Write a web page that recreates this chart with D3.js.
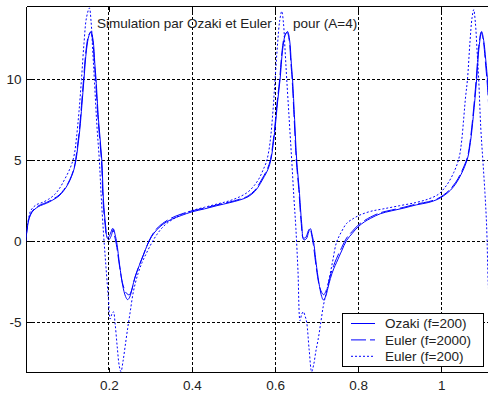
<!DOCTYPE html>
<html>
<head>
<meta charset="utf-8">
<script src="https://cdn.jsdelivr.net/npm/d3@7"></script>
<style>
  body { margin: 0; background: #fff; }
  svg text { font-family: "Liberation Sans", Arial, sans-serif; fill: #222; }
</style>
</head>
<body>
<div id="chart"></div>
<script>
const xTicks = [0.2, 0.4, 0.6, 0.8, 1];
const xTickLabels = ["0.2", "0.4", "0.6", "0.8", "1"];
const yTicks = [-5, 0, 5, 10];
const yTickLabels = ["-5", "0", "5", "10"];
const seriesNames = ["Ozaki (f=200)", "Euler (f=2000)", "Euler (f=200)"];
const titleParts = ["Simulation par Ozaki et Euler", "pour (A=4)"];

// Ozaki (f=200), solid
const ozaki = [
  [0.000, 0.0], [0.003, 0.7], [0.008, 1.4], [0.015, 1.8], [0.025, 2.05], [0.035, 2.2],
  [0.050, 2.35], [0.065, 2.55], [0.080, 2.8], [0.092, 3.15], [0.102, 3.55], [0.110, 4.0],
  [0.116, 4.45], [0.121, 5.05], [0.125, 5.8], [0.130, 6.9], [0.135, 8.4], [0.140, 10.0], [0.146, 11.8],
  [0.152, 12.7], [0.157, 12.95], [0.162, 12.4], [0.166, 11.0], [0.169, 10.0], [0.175, 7.5],
  [0.183, 5.0], [0.187, 2.5], [0.192, 1.0], [0.196, 0.2], [0.200, 0.1], [0.205, 0.3],
  [0.211, 0.75], [0.215, 0.4], [0.219, -0.1], [0.226, -1.5], [0.233, -2.7], [0.240, -3.4],
  [0.245, -3.6], [0.250, -3.45], [0.256, -2.9], [0.263, -2.2], [0.273, -1.5], [0.283, -0.85],
  [0.293, -0.2], [0.303, 0.3], [0.315, 0.7], [0.330, 1.05], [0.350, 1.35], [0.375, 1.6],
  [0.400, 1.82], [0.430, 2.0], [0.460, 2.2], [0.490, 2.38], [0.515, 2.55], [0.535, 2.75],
  [0.552, 3.1], [0.564, 3.55], [0.574, 4.0], [0.583, 4.45], [0.590, 5.05], [0.595, 5.9],
  [0.600, 7.0], [0.606, 8.6], [0.612, 10.0], [0.618, 11.8], [0.624, 12.7], [0.630, 12.95], [0.635, 12.4],
  [0.639, 11.0], [0.642, 10.0], [0.647, 7.5], [0.652, 5.0], [0.658, 3.2], [0.664, 1.1],
  [0.669, 0.1], [0.675, 0.15], [0.681, 0.6], [0.685, 0.78], [0.689, 0.4], [0.693, -0.1],
  [0.700, -1.6], [0.707, -2.8], [0.712, -3.4], [0.716, -3.62], [0.721, -3.45], [0.727, -2.9],
  [0.733, -2.3], [0.741, -1.7], [0.748, -1.3], [0.760, -0.6], [0.772, 0.05], [0.786, 0.5],
  [0.800, 0.9], [0.815, 1.2], [0.830, 1.42], [0.853, 1.7], [0.880, 1.88], [0.910, 2.05],
  [0.940, 2.25], [0.970, 2.4], [0.990, 2.58], [1.005, 2.8], [1.022, 3.15], [1.036, 3.6],
  [1.047, 4.1], [1.056, 4.6], [1.064, 5.2], [1.070, 6.1], [1.077, 7.7], [1.085, 10.0], [1.091, 12.0],
  [1.097, 12.95], [1.102, 12.4], [1.107, 11.2], [1.112, 9.7], [1.118, 7.0]
];

// Euler (f=2000), dashed
const euler2000 = [
  [0.000, 0.0], [0.003, 0.75], [0.008, 1.45], [0.015, 1.85], [0.025, 2.1], [0.035, 2.25],
  [0.050, 2.4], [0.065, 2.6], [0.080, 2.85], [0.092, 3.2], [0.102, 3.6], [0.110, 4.05],
  [0.116, 4.5], [0.120, 5.05], [0.124, 5.8], [0.129, 6.9], [0.134, 8.4], [0.139, 10.0], [0.145, 11.8],
  [0.151, 12.7], [0.156, 12.9], [0.161, 12.4], [0.165, 11.0], [0.168, 10.0], [0.174, 7.5],
  [0.182, 5.0], [0.186, 2.5], [0.191, 1.0], [0.195, 0.3], [0.199, 0.25], [0.204, 0.5],
  [0.209, 0.8], [0.213, 0.4], [0.218, -0.2], [0.226, -1.6], [0.234, -2.7], [0.242, -3.2],
  [0.249, -3.3], [0.255, -3.0], [0.262, -2.3], [0.272, -1.55], [0.282, -0.9], [0.292, -0.25],
  [0.302, 0.3], [0.314, 0.75], [0.329, 1.1], [0.349, 1.42], [0.374, 1.68], [0.400, 1.88],
  [0.430, 2.05], [0.460, 2.25], [0.490, 2.42], [0.515, 2.6], [0.535, 2.8], [0.551, 3.15],
  [0.563, 3.6], [0.573, 4.05], [0.582, 4.5], [0.589, 5.05], [0.594, 5.9], [0.599, 7.0], [0.605, 8.6],
  [0.611, 10.0], [0.617, 11.8], [0.623, 12.7], [0.629, 12.9], [0.634, 12.4], [0.638, 11.0],
  [0.641, 10.0], [0.646, 7.5], [0.651, 5.0], [0.657, 3.2], [0.663, 1.1], [0.668, 0.2],
  [0.674, 0.25], [0.680, 0.65], [0.684, 0.8], [0.688, 0.4], [0.692, -0.2], [0.699, -1.6],
  [0.706, -2.7], [0.712, -3.15], [0.717, -3.3], [0.722, -3.1], [0.728, -2.6], [0.734, -2.0],
  [0.741, -1.5], [0.748, -1.05], [0.760, -0.4], [0.772, 0.2], [0.786, 0.62], [0.800, 1.0],
  [0.815, 1.28], [0.830, 1.5], [0.853, 1.76], [0.880, 1.93], [0.910, 2.1], [0.940, 2.3],
  [0.970, 2.45], [0.990, 2.62], [1.005, 2.85], [1.021, 3.2], [1.035, 3.65], [1.046, 4.15],
  [1.055, 4.65], [1.063, 5.2], [1.069, 6.1], [1.076, 7.7], [1.084, 10.0], [1.090, 12.0], [1.096, 12.9],
  [1.101, 12.4], [1.106, 11.1], [1.111, 9.6], [1.117, 7.0]
];

// Euler (f=200), dotted
const euler200 = [
  [0.000, 0.0], [0.002, 0.6], [0.006, 1.3], [0.012, 1.9], [0.025, 2.25], [0.040, 2.4],
  [0.055, 2.6], [0.070, 2.9], [0.082, 3.3], [0.093, 3.8], [0.103, 4.3], [0.111, 4.8],
  [0.117, 5.4], [0.122, 6.4], [0.128, 8.0], [0.134, 10.0], [0.140, 12.2], [0.146, 13.8],
  [0.153, 14.4], [0.157, 13.6], [0.161, 11.8], [0.165, 10.0], [0.171, 7.2], [0.177, 5.0],
  [0.181, 3.0], [0.187, 0.5], [0.193, -1.6], [0.199, -3.6], [0.203, -4.8], [0.207, -4.5],
  [0.211, -4.35], [0.215, -5.1], [0.220, -6.5], [0.225, -7.7], [0.229, -8.05], [0.234, -7.4],
  [0.239, -6.5], [0.245, -5.4], [0.251, -4.4], [0.259, -3.1], [0.270, -2.0], [0.280, -1.3],
  [0.291, -0.7], [0.303, -0.1], [0.315, 0.4], [0.327, 0.8], [0.339, 1.1], [0.360, 1.45],
  [0.380, 1.7], [0.400, 1.9], [0.430, 2.1], [0.460, 2.3], [0.490, 2.5], [0.515, 2.75],
  [0.535, 3.05], [0.550, 3.45], [0.562, 3.9], [0.571, 4.4], [0.579, 4.9], [0.585, 5.6],
  [0.590, 6.6], [0.595, 8.1], [0.600, 10.0], [0.606, 12.2], [0.611, 13.6], [0.616, 14.2], [0.620, 13.5],
  [0.624, 11.8], [0.628, 10.0], [0.634, 7.5], [0.640, 5.0], [0.645, 2.8], [0.650, 0.8],
  [0.655, -1.8], [0.660, -4.9], [0.664, -4.5], [0.668, -4.35], [0.672, -4.6], [0.676, -5.0],
  [0.682, -6.7], [0.688, -8.05], [0.693, -7.6], [0.698, -6.8], [0.704, -6.0], [0.710, -5.0],
  [0.716, -4.0], [0.722, -3.3], [0.728, -2.6], [0.738, -1.3], [0.748, -0.05], [0.760, 0.6],
  [0.772, 1.1], [0.788, 1.4], [0.804, 1.62], [0.830, 1.85], [0.860, 2.0], [0.900, 2.2],
  [0.940, 2.4], [0.970, 2.62], [0.993, 2.9], [1.008, 3.3], [1.020, 3.75], [1.030, 4.25],
  [1.038, 4.75], [1.044, 5.3], [1.049, 6.2], [1.054, 7.6], [1.058, 8.8], [1.063, 10.0], [1.069, 12.3],
  [1.074, 13.8], [1.078, 14.3], [1.082, 13.5], [1.086, 11.8], [1.090, 10.0], [1.095, 7.0],
  [1.100, 5.0], [1.105, 3.0], [1.109, 1.0], [1.113, -2.6], [1.117, -4.5]
];

const width = 488, height = 394;
const plotLeft = 26.5, plotTop = 6.5, plotBottom = 372.5, plotRight = width;

let svg = d3.select('#chart').append('svg')
  .attr('width', width)
  .attr('height', height);

let x = d3.scaleLinear().domain([0, 1]).range([25.8, 441.3]);
let y = d3.scaleLinear().domain([-5, 10]).range([322.3, 79.3]);

svg.append('clipPath').attr('id', 'plot-clip')
  .append('rect')
  .attr('x', plotLeft).attr('y', plotTop)
  .attr('width', plotRight - plotLeft).attr('height', plotBottom - plotTop);

// grid
let grid = svg.append('g')
  .attr('stroke', '#000')
  .attr('stroke-dasharray', '3,2')
  .attr('shape-rendering', 'crispEdges');

grid.selectAll('.gx')
  .data(xTicks)
  .enter().append('line')
  .attr('x1', d => x(d)).attr('x2', d => x(d))
  .attr('y1', plotTop).attr('y2', plotBottom);

grid.selectAll('.gy')
  .data(yTicks)
  .enter().append('line')
  .attr('x1', plotLeft).attr('x2', plotRight)
  .attr('y1', d => y(d)).attr('y2', d => y(d));

// axes
svg.append('g')
  .attr('transform', `translate(0,${plotBottom})`)
  .call(d3.axisBottom(x).tickValues(xTicks).tickFormat((d, i) => xTickLabels[i]).tickSize(-5).tickPadding(8));

svg.append('g')
  .attr('transform', `translate(0,${plotTop})`)
  .call(d3.axisTop(x).tickValues(xTicks).tickFormat('').tickSize(-5));

svg.append('g')
  .attr('transform', `translate(${plotLeft},0)`)
  .call(d3.axisLeft(y).tickValues(yTicks).tickFormat((d, i) => yTickLabels[i]).tickSize(-5).tickPadding(5));

svg.selectAll('.domain').remove();
svg.selectAll('.tick line').attr('stroke', '#000').attr('shape-rendering', 'crispEdges');
svg.selectAll('.tick text').style('font-size', '13.5px').attr('fill', '#222');

let frame = svg.append('g')
  .attr('stroke', '#000')
  .attr('shape-rendering', 'crispEdges');
frame.append('line').attr('x1', plotLeft).attr('x2', plotLeft).attr('y1', plotTop).attr('y2', plotBottom);
frame.append('line').attr('x1', plotLeft).attr('x2', plotRight).attr('y1', plotBottom).attr('y2', plotBottom);
frame.append('line').attr('x1', plotLeft).attr('x2', plotRight).attr('y1', plotTop).attr('y2', plotTop);

// curves
let line = d3.line()
  .x(d => x(d[0]))
  .y(d => y(d[1]))
  .curve(d3.curveCatmullRom.alpha(0.5));

const series = [
  { data: ozaki, dash: null },
  { data: euler2000, dash: '15,4' },
  { data: euler200, dash: '2,2' }
];

let curves = svg.append('g').attr('clip-path', 'url(#plot-clip)');

curves.selectAll('path')
  .data(series)
  .enter()
  .append('path')
  .attr('d', d => line(d.data))
  .attr('fill', 'none')
  .attr('stroke', '#0000ff')
  .attr('stroke-width', 1)
  .attr('stroke-dasharray', d => d.dash);

// title text inside the axes
svg.append('text')
  .attr('x', 97).attr('y', 28)
  .style('font-size', '13.5px')
  .text(titleParts[0]);

svg.append('text')
  .attr('x', 293).attr('y', 28)
  .style('font-size', '13.5px')
  .text(titleParts[1]);

// legend
let legend = svg.append('g');

legend.append('rect')
  .attr('x', 342.5).attr('y', 313.5)
  .attr('width', 141).attr('height', 53)
  .attr('fill', '#fff')
  .attr('stroke', '#000')
  .attr('shape-rendering', 'crispEdges');

let rows = legend.selectAll('.row')
  .data(series)
  .enter().append('g')
  .attr('transform', (d, i) => `translate(0,${323.5 + i * 16.4})`);

rows.append('line')
  .attr('x1', 351).attr('x2', 375)
  .attr('y1', 0).attr('y2', 0)
  .attr('stroke', '#0000ff')
  .attr('stroke-dasharray', d => d.dash);

rows.append('text')
  .attr('x', 385).attr('y', 4.8)
  .style('font-size', '13.5px')
  .text((d, i) => seriesNames[i]);
</script>
</body>
</html>
